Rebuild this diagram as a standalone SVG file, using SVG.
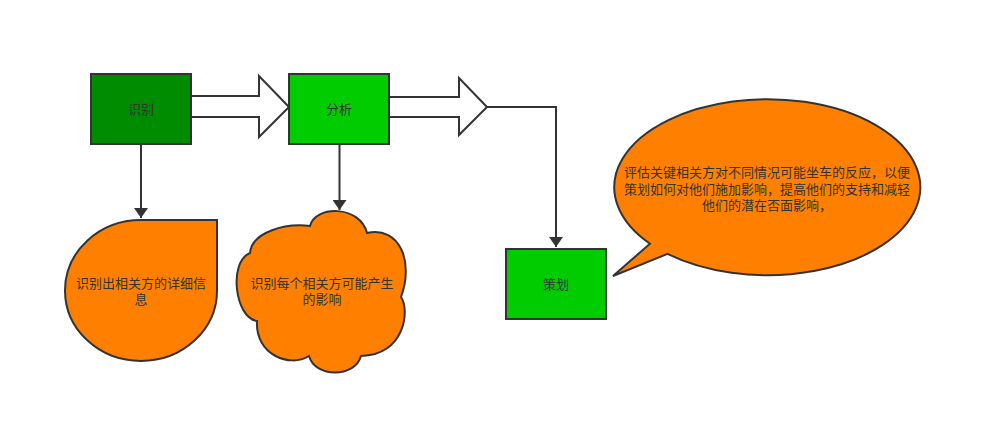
<svg xmlns="http://www.w3.org/2000/svg" width="982" height="433" viewBox="0 0 982 433">
<defs>
<style>
.box{stroke:#333;stroke-width:2}
.shape{fill:#ff8000;stroke:#333;stroke-width:2}
.blk{fill:#fff;stroke:#333;stroke-width:2;stroke-linejoin:miter}
.ln{fill:none;stroke:#333;stroke-width:2}
text{font-family:"Liberation Sans","Noto Sans CJK SC",sans-serif;font-size:13px;fill:#333;text-anchor:middle}
</style>
<marker id="ah" viewBox="0 0 10 14" refX="10" refY="7" markerWidth="10" markerHeight="14" markerUnits="userSpaceOnUse" orient="auto">
<path d="M0,0 L10,7 L0,14 Z" fill="#333"/>
</marker>
</defs>
<rect width="982" height="433" fill="#fff"/>
<g id="connectors">
<path class="blk" d="M191,96 L259,96 L259,76 L289,107 L259,137 L259,117 L191,117"/>
<path class="blk" d="M389,97 L459,97 L459,78 L487,107 L459,135 L459,117 L389,117"/>
<path class="ln" d="M487,107 L556,107 L556,247" marker-end="url(#ah)"/>
<path class="ln" d="M141,144 L141,218" marker-end="url(#ah)"/>
<path class="ln" d="M339.5,144 L339.5,210" marker-end="url(#ah)"/>
</g>
<g id="n1">
<rect class="box" x="91" y="74" width="100" height="70" fill="#008c00"/>
<text x="141" y="114">识别</text>
</g>
<g id="n2">
<rect class="box" x="289" y="74" width="100" height="70" fill="#00cc00"/>
<text x="339" y="114">分析</text>
</g>
<g id="n3">
<rect class="box" x="506" y="249" width="100" height="70" fill="#00cc00"/>
<text x="556" y="289">策划</text>
</g>
<g id="n4">
<path class="shape" d="M141,220 L217,220 L217,290.5 A76,70.5 0 0 1 141,361 A76,70.5 0 0 1 65,290.5 A76,70.5 0 0 1 141,220 Z"/>
<text x="141" y="288">识别出相关方的详细信</text>
<text x="141" y="304">息</text>
</g>
<g id="n5">
<path class="shape" d="M250,253 C252,232 285,223 310,226 C315,205 360,205 367,233 C400,226 414,262 401,297 C410,310 405,355 361,356 C355,378 315,378 309,356 C290,368 255,355 257,321 C235,318 228,262 250,253 Z"/>
<text x="322" y="288">识别每个相关方可能产生</text>
<text x="322" y="304">的影响</text>
</g>
<g id="n6">
<path class="shape" d="M650,243.7 A153,88 0 1 1 667.5,253.9 L613,276 Z"/>
<text x="767" y="177">评估关键相关方对不同情况可能坐车的反应，以便</text>
<text x="767" y="194">策划如何对他们施加影响，提高他们的支持和减轻</text>
<text x="767" y="210">他们的潜在否面影响，</text>
</g>
</svg>
